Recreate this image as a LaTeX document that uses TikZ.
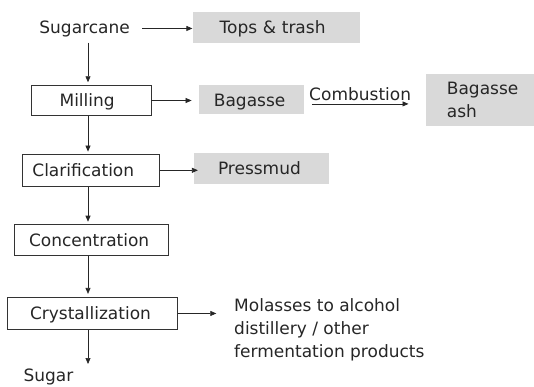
\documentclass[tikz,border=0pt]{standalone}
\usepackage{fontspec}
\setmainfont{DejaVu Sans}
\usetikzlibrary{arrows.meta}
\begin{document}
\begin{tikzpicture}[x=1pt,y=-1pt,
  every node/.style={font=\fontsize{17}{22.6}\selectfont, text=black!85},
  stepbox/.style={draw=black!80, line width=0.8pt, fill=white, align=left, minimum height=#1, inner ysep=0pt, text height=14.5pt, text depth=2pt},
  outbox/.style={fill=gray!30, draw=none, align=left, minimum height=#1, inner ysep=0pt, text height=14.5pt, text depth=2pt},
  plain/.style={inner sep=0pt, align=left},
  arr/.style={-{Triangle[length=6pt,width=5pt]}, line width=0.7pt, draw=black!85}
]
\useasboundingbox (0,0) rectangle (534,386);
% main column
\node[plain, anchor=base west] (sug) at (39.2,33) {Sugarcane};
\node[stepbox=30.7pt, inner xsep=27.9pt, text width=63.4pt] (mil) at (91.3,100.5) {Milling};
\node[stepbox=32.6pt, inner xsep=10.3pt, text width=116.7pt] (cla) at (90.75,170.3) {Clarification};
\node[stepbox=31.6pt, inner xsep=14.7pt, text width=124.2pt] (con) at (91.1,239.9) {Concentration};
\node[stepbox=32.3pt, inner xsep=22.2pt, text width=124.9pt] (cry) at (92.45,313.45) {Crystallization};
\node[plain, anchor=base west] (sgr) at (23.3,381.5) {Sugar};
% outputs
\node[outbox=31.4pt, inner xsep=26.6pt, text width=113.7pt] (tops) at (276.55,27.6) {Tops \& trash};
\node[outbox=29.3pt, inner xsep=14.6pt, text width=75.7pt] (bag) at (251.75,99.75) {Bagasse};
\node[fill=gray!30, align=left, minimum height=51.7pt, inner ysep=0pt, inner xsep=21.2pt, text width=65.9pt, yshift=2pt] (ash) at (479.85,101.85) {Bagasse\\ash};
\node[outbox=30.6pt, inner xsep=23.9pt, text width=86.8pt] (pre) at (261.4,168.6) {Pressmud};
\node[plain, anchor=north west] (mol) at (234,298.7) {Molasses to alcohol\\distillery / other\\fermentation products};
% vertical flow
\coordinate (sugb) at (88,42.6);
\draw[arr, shorten >=2.5pt] (sugb) -- (sugb |- mil.north);
\draw[arr, shorten >=2pt] (mil.south -| sugb) -- (sugb |- cla.north);
\draw[arr, shorten >=2pt] (cla.south -| sugb) -- (sugb |- con.north);
\draw[arr, shorten >=3pt] (con.south -| sugb) -- (sugb |- cry.north);
\coordinate (sgrt) at (88,364);
\draw[arr] (cry.south -| sugb) -- (sgrt);
% side outputs
\draw[arr, shorten >=0.5pt] ([xshift=12.5pt]sug.east) -- (tops.west |- sug.east);
\draw[arr, shorten >=7.5pt] (mil.east) -- (bag.west |- mil.east);
\draw[arr, shorten >=-4pt] (cla.east) -- (pre.west |- cla.east);
\draw[arr] ([xshift=7.4pt]bag.east |- 0,103.9) -- node[plain, above=3.2pt] (comb) {Combustion} ([xshift=-17pt]ash.west |- 0,103.9);
\draw[arr, shorten >=17.7pt] (cry.east) -- (mol.west |- cry.east);
\end{tikzpicture}
\end{document}
